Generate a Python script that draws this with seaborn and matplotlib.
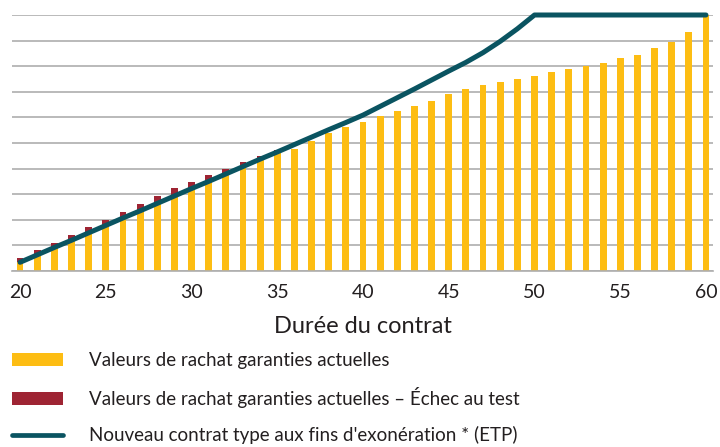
import numpy as np
import matplotlib
matplotlib.use("Agg")
import matplotlib.pyplot as plt
from matplotlib.patches import Patch
from matplotlib.lines import Line2D
import seaborn as sns

# contract duration (years)
years = list(range(20, 61))

# current guaranteed surrender values (bar heights)
surrender_values = [
    0.52, 0.82, 1.09, 1.42, 1.73, 1.98, 2.30, 2.60, 2.92, 3.24,
    3.48, 3.75, 4.00, 4.25, 4.50, 4.73, 4.77, 5.09, 5.38, 5.64,
    5.82, 6.07, 6.25, 6.45, 6.64, 6.93, 7.12, 7.25, 7.38, 7.50,
    7.62, 7.76, 7.88, 8.00, 8.13, 8.32, 8.44, 8.70, 8.96, 9.32,
    10.00,
]

# new standard exemption test policy (ETP) line
etp_values = [
    0.34, 0.63, 0.92, 1.20, 1.49, 1.78, 2.07, 2.35, 2.64, 2.93,
    3.22, 3.50, 3.79, 4.08, 4.37, 4.65, 4.94, 5.23, 5.52, 5.80,
    6.09, 6.43, 6.77, 7.11, 7.46, 7.81, 8.15, 8.53, 8.97, 9.46,
    10.00, 10.00, 10.00, 10.00, 10.00, 10.00, 10.00, 10.00, 10.00, 10.00,
    10.00,
]

x_ticks = [20, 25, 30, 35, 40, 45, 50, 55, 60]

legend_labels = [
    "Valeurs de rachat garanties actuelles",
    "Valeurs de rachat garanties actuelles \u2013 \u00c9chec au test",
    "Nouveau contrat type aux fins d'exon\u00e9ration * (ETP)",
]

YELLOW = "#FDBD13"
RED = "#9E2433"
TEAL = "#0A5461"
GRID = "#AEAEAE"
TEXT = "#231F20"

sns.set_style("white")
plt.rcParams["font.family"] = ["Lato", "DejaVu Sans"]

fig = plt.figure(figsize=(7.2, 4.47), dpi=100)
ax = fig.add_axes([12 / 720, 1 - 271 / 447, 701 / 720, 256 / 447])

# part of the bar under the ETP line stays yellow, the rest fails the test
passed = np.minimum(surrender_values, etp_values)

sns.barplot(x=years, y=surrender_values, native_scale=True, width=0.4,
            color=RED, saturation=1, errorbar=None, linewidth=0, ax=ax)
sns.barplot(x=years, y=passed, native_scale=True, width=0.4,
            color=YELLOW, saturation=1, errorbar=None, linewidth=0, ax=ax)
sns.lineplot(x=years, y=etp_values, color=TEAL, linewidth=3.6,
             solid_capstyle="round", ax=ax, clip_on=False, zorder=5)

ax.set_xlim(19.53, 60.41)
ax.set_ylim(0, 10)
ax.set_yticks(range(11))
ax.set_yticklabels([])
ax.set_xticks(x_ticks)
ax.set_xticklabels([str(t) for t in x_ticks])
ax.tick_params(axis="both", length=0)
ax.tick_params(axis="x", labelsize=14, pad=9, colors=TEXT)
ax.yaxis.grid(True, color=GRID, linewidth=1.2)
ax.set_axisbelow(True)
for side in ["left", "right", "top"]:
    ax.spines[side].set_visible(False)
ax.spines["bottom"].set_color(GRID)
ax.spines["bottom"].set_linewidth(1.2)
ax.set_xlabel("Dur\u00e9e du contrat", fontsize=17, color=TEXT, labelpad=11)

handles = [
    Patch(facecolor=YELLOW, edgecolor="none"),
    Patch(facecolor=RED, edgecolor="none"),
    Line2D([0], [0], color=TEAL, linewidth=3.4, solid_capstyle="round"),
]
fig.legend(handles, legend_labels, loc="upper left",
           bbox_to_anchor=(12 / 720, 1 - 352 / 447), frameon=False,
           fontsize=13.5, handlelength=2.72, handleheight=0.72,
           handletextpad=1.39, labelspacing=0.97, borderpad=0,
           borderaxespad=0, labelcolor=TEXT)

fig.savefig("out.png", dpi=100)
